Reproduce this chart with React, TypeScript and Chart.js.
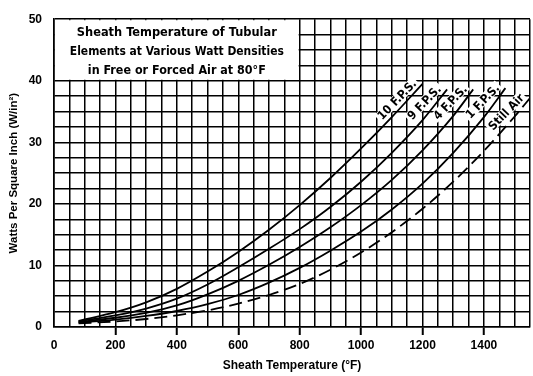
import React, { useEffect, useRef } from 'react';
import { Chart, registerables } from 'chart.js';

Chart.register(...registerables);

// ---- Data ----
const curveNames = ['10 F.P.S.', '9 F.P.S.', '4 F.P.S.', '1 F.P.S.', 'Still Air'];

const temps10fps = [80, 200, 300, 400, 500, 600, 700, 800, 900, 1000, 1100, 1200];
const watts10fps = [1.0, 2.4, 4.0, 6.2, 9.0, 12.2, 15.8, 19.8, 24.2, 29.0, 34.1, 39.5];

const temps9fps = [80, 200, 300, 400, 500, 600, 700, 800, 900, 1000, 1100, 1200, 1280];
const watts9fps = [0.9, 1.9, 3.0, 4.6, 6.9, 9.7, 12.7, 15.9, 19.5, 23.6, 28.3, 33.6, 38.6];

const temps4fps = [80, 200, 300, 400, 500, 600, 700, 800, 900, 1000, 1100, 1200, 1300, 1365];
const watts4fps = [0.8, 1.5, 2.3, 3.5, 5.3, 7.5, 10.1, 13.0, 16.2, 19.8, 23.9, 28.7, 34.3, 38.6];

const temps1fps = [80, 200, 300, 400, 500, 600, 700, 800, 900, 1000, 1100, 1200, 1300, 1400, 1470];
const watts1fps = [0.7, 1.2, 1.8, 2.6, 3.7, 5.2, 7.2, 9.6, 12.4, 15.5, 19.1, 23.3, 28.3, 34.1, 38.8];

const tempsStill = [80, 200, 300, 400, 500, 600, 700, 800, 900, 1000, 1100, 1200, 1300, 1400, 1500, 1550];
const wattsStill = [0.6, 0.9, 1.3, 1.9, 2.7, 3.8, 5.2, 7.0, 9.3, 12.1, 15.4, 19.2, 23.6, 28.6, 34.2, 37.2];

const titleLines = [
  'Sheath Temperature of Tubular',
  'Elements at Various Watt Densities',
  'in Free or Forced Air at 80°F',
];

const xTitle = 'Sheath Temperature (°F)';
const yTitle = 'Watts Per Square Inch (W/in²)';

const FONT = "'Liberation Sans', Arial, 'DejaVu Sans', sans-serif";
const COND = "'Liberation Sans Narrow', 'DejaVu Sans Condensed', 'Liberation Sans', Arial, sans-serif";

const seriesTemps = [temps10fps, temps9fps, temps4fps, temps1fps, tempsStill];
const seriesWatts = [watts10fps, watts9fps, watts4fps, watts1fps, wattsStill];

const whiteBg = {
  id: 'whiteBg',
  beforeDraw(chart: any) {
    const ctx = chart.ctx;
    ctx.save();
    ctx.fillStyle = '#fff';
    ctx.fillRect(0, 0, chart.width, chart.height);
    ctx.restore();
  },
};

const titleBox = {
  id: 'titleBox',
  beforeDatasetsDraw(chart: any) {
    const ctx = chart.ctx;
    const xs = chart.scales.x;
    const ys = chart.scales.y;
    const l = xs.getPixelForValue(0);
    const r = xs.getPixelForValue(800);
    const t = ys.getPixelForValue(50);
    const b = ys.getPixelForValue(40);
    ctx.save();
    ctx.fillStyle = '#fff';
    ctx.fillRect(l + 1, t + 1, r - l - 2, b - t - 2);
    ctx.fillStyle = '#000';
    ctx.font = `bold 13px ${COND}`;
    ctx.textAlign = 'center';
    ctx.textBaseline = 'middle';
    const widths = [200, 214, 178];
    const fr = [0.22, 0.53, 0.84];
    const cx = l + (r - l) * 0.5;
    titleLines.forEach((txt, i) => {
      const m = ctx.measureText(txt).width;
      const s = widths[i] / m;
      ctx.save();
      ctx.translate(cx, t + (b - t) * fr[i]);
      ctx.scale(s, 1);
      ctx.fillText(txt, 0, 0);
      ctx.restore();
    });
    ctx.restore();
  },
};

const curveLabels = {
  id: 'curveLabels',
  afterDatasetsDraw(chart: any) {
    const ctx = chart.ctx;
    const ang = (-46 * Math.PI) / 180;
    ctx.save();
    ctx.font = `bold 12px ${COND}`;
    chart.data.datasets.forEach((ds: any, i: number) => {
      const meta = chart.getDatasetMeta(i);
      const pts = meta.data;
      const a = pts[pts.length - 1];
      const w = ctx.measureText(ds.label).width;
      ctx.save();
      ctx.translate(a.x, a.y);
      ctx.rotate(ang);
      ctx.fillStyle = '#fff';
      ctx.fillRect(-w - 6, -13, w + 4, 10.5);
      ctx.fillStyle = '#000';
      ctx.textAlign = 'right';
      ctx.textBaseline = 'alphabetic';
      ctx.fillText(ds.label, -4, -3.5);
      ctx.restore();
    });
    ctx.restore();
  },
};

export default function App() {
  const ref = useRef<HTMLCanvasElement | null>(null);

  useEffect(() => {
    if (!ref.current) return;
    const datasets = curveNames.map((name, i) => ({
      label: name,
      data: seriesTemps[i].map((t, j) => ({ x: t, y: seriesWatts[i][j] })),
      borderColor: '#000',
      backgroundColor: '#000',
      borderWidth: 1.8,
      pointRadius: 0,
      fill: false,
      cubicInterpolationMode: 'monotone' as const,
      borderDash: i === 4 ? [13, 6] : [],
    }));

    const chart = new Chart(ref.current, {
      type: 'line',
      data: { datasets },
      options: {
        animation: false,
        responsive: false,
        devicePixelRatio: 1,
        layout: { padding: { left: 0, right: 3, top: 17, bottom: 0 } },
        plugins: {
          legend: { display: false },
          tooltip: { enabled: false },
        },
        scales: {
          x: {
            type: 'linear',
            min: 0,
            max: 1550,
            afterFit: (s: any) => {
              s.height = 49;
            },
            ticks: {
              stepSize: 50,
              autoSkip: false,
              maxRotation: 0,
              minRotation: 0,
              padding: 3,
              color: '#000',
              font: { family: FONT, size: 12, weight: 'bold' },
              callback: (v: any) => (Number(v) % 200 === 0 ? String(v) : ''),
            },
            grid: {
              color: '#000',
              lineWidth: 1.5,
              tickLength: 8,
              tickWidth: 2,
              tickColor: (c: any) =>
                c.tick && c.tick.value > 0 && c.tick.value % 200 === 0 ? '#000' : 'rgba(0,0,0,0)',
            },
            border: { color: '#000', width: 1.6 },
            title: {
              display: true,
              text: xTitle,
              color: '#000',
              font: { family: FONT, size: 12, weight: 'bold' },
              padding: { top: 0, bottom: 3 },
            },
          },
          y: {
            min: 0,
            max: 50,
            afterFit: (s: any) => {
              s.width = 54;
            },
            ticks: {
              stepSize: 2.5,
              autoSkip: false,
              padding: 12,
              color: '#000',
              font: { family: FONT, size: 12, weight: 'bold' },
              callback: (v: any) => (Number(v) % 10 === 0 ? String(v) : ''),
            },
            grid: { color: '#000', lineWidth: 1.5, drawTicks: false },
            border: { color: '#000', width: 1.6 },
            title: {
              display: true,
              text: yTitle,
              color: '#000',
              font: { family: FONT, size: 11.5, weight: 'bold' },
              padding: { top: 7, bottom: 0 },
            },
          },
        },
      },
      plugins: [whiteBg, titleBox, curveLabels],
    });

    return () => chart.destroy();
  }, []);

  return (
    <div style={{ position: 'absolute', left: 0, top: 0, width: 533, height: 376 }}>
      <canvas ref={ref} width={533} height={376} style={{ display: 'block' }} />
    </div>
  );
}
